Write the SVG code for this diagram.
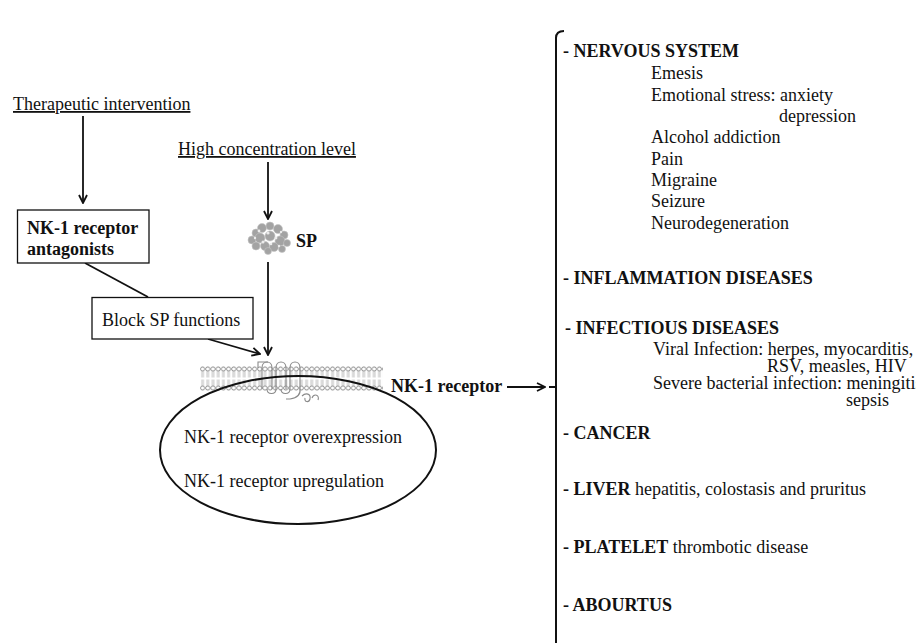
<svg xmlns="http://www.w3.org/2000/svg" width="916" height="643" viewBox="0 0 916 643">
  <defs>
    <style>
      text { font-family: "Liberation Serif", "Times New Roman", serif; font-size: 18px; fill: #111; }
      .b { font-weight: bold; }
      .u { text-decoration: underline; }
      .box { fill: #fff; stroke: #111; stroke-width: 1.3; }
      .ln { fill: none; stroke: #111; stroke-width: 1.8; }
      .rec { fill: none; stroke: #8a8a8a; stroke-width: 1.1; }
    </style>
    <marker id="arr" viewBox="0 0 10 10" refX="9" refY="5" markerWidth="10" markerHeight="10" markerUnits="userSpaceOnUse" orient="auto">
      <path d="M1,1 L9,5 L1,9" fill="none" stroke="#111" stroke-width="1.8"/>
    </marker>
    <!-- phospholipid bilayer tile: two head rows with tails -->
    <pattern id="lipid" x="200" y="366" width="5.2" height="25" patternUnits="userSpaceOnUse">
      <circle cx="2.6" cy="3" r="2.1" fill="#fff" stroke="#7a7a7a" stroke-width="0.8"/>
      <circle cx="2.6" cy="22" r="2.1" fill="#fff" stroke="#7a7a7a" stroke-width="0.8"/>
      <path d="M1.8,5.2 V11.5 M3.4,5.2 V11.5 M1.8,13.5 V19.8 M3.4,13.5 V19.8" stroke="#9a9a9a" stroke-width="0.6"/>
    </pattern>
  </defs>

  <!-- connectors -->
  <g id="connectors">
    <path class="ln" d="M83,116 V203" marker-end="url(#arr)"/>
    <path class="ln" d="M268,162 V219" marker-end="url(#arr)"/>
    <path class="ln" d="M268,262 V355" marker-end="url(#arr)"/>
    <path class="ln" d="M85,263 L148,297"/>
    <path class="ln" d="M208,339 L260,354" marker-end="url(#arr)"/>
    <path class="ln" d="M507,387 H545" marker-end="url(#arr)"/>
  </g>

  <g id="therapeutic">
    <text x="13" y="110" class="u">Therapeutic intervention</text>
  </g>

  <g id="antagonists">
    <rect class="box" x="17.5" y="210" width="131.5" height="53"/>
    <text x="27" y="234" class="b">NK-1 receptor</text>
    <text x="27" y="255" class="b">antagonists</text>
  </g>

  <g id="high-concentration">
    <text x="178" y="155" class="u">High concentration level</text>
  </g>

  <g id="sp">
    <!-- substance P molecule rendered as a cluster of atoms -->
    <g fill="#a3a3a3" stroke="#c4c4c4" stroke-width="0.6">
      <circle cx="256" cy="233" r="4"/>
      <circle cx="262" cy="228" r="4.5"/>
      <circle cx="270" cy="226" r="4"/>
      <circle cx="278" cy="229" r="4.5"/>
      <circle cx="284" cy="235" r="4"/>
      <circle cx="252" cy="240" r="4"/>
      <circle cx="260" cy="238" r="5"/>
      <circle cx="270" cy="236" r="5"/>
      <circle cx="280" cy="241" r="5"/>
      <circle cx="287" cy="243" r="3.5"/>
      <circle cx="256" cy="246" r="4"/>
      <circle cx="265" cy="246" r="4.5"/>
      <circle cx="274" cy="247" r="4.5"/>
      <circle cx="268" cy="251" r="3.5"/>
      <circle cx="282" cy="249" r="3.5"/>
    </g>
    <g fill="#ececec">
      <circle cx="259" cy="231" r="1.4"/>
      <circle cx="268" cy="233" r="1.6"/>
      <circle cx="276" cy="238" r="1.4"/>
      <circle cx="263" cy="242" r="1.5"/>
      <circle cx="271" cy="244" r="1.3"/>
      <circle cx="281" cy="232" r="1.2"/>
      <circle cx="255" cy="238" r="1.2"/>
      <circle cx="279" cy="246" r="1.2"/>
    </g>
    <text x="296" y="247" class="b">SP</text>
  </g>

  <g id="block-sp">
    <rect class="box" x="92" y="297.5" width="161" height="41.5"/>
    <text x="102" y="326">Block SP functions</text>
  </g>

  <g id="receptor">
    <rect x="200" y="366" width="183" height="25" fill="url(#lipid)"/>
    <!-- seven-transmembrane receptor -->
    <path class="rec" d="M258,368 V362 H268"/>
    <path class="rec" d="M262,368 C262,360 272,360 272,368 M276,368 C276,360 286,360 286,368 M290,368 C290,360 300,360 300,368"/>
    <path class="rec" d="M262,368 V389 M272,368 V389 M276,368 V389 M286,368 V389 M290,368 V389 M300,368 V389"/>
    <path class="rec" d="M267,389 C267,395 276,395 276,389 M281,389 C281,395 290,395 290,389 M300,389 C301,396 296,398 290,399 H286"/>
    <path class="rec" d="M302,396 C306,392 311,394 310,399 C309,403 304,402 305,398 M312,398 C314,393 320,395 318,400"/>
    <ellipse cx="298" cy="450" rx="138" ry="74" fill="none" stroke="#111" stroke-width="2"/>
    <text x="391" y="392" class="b">NK-1 receptor</text>
    <text x="184" y="443">NK-1 receptor overexpression</text>
    <text x="184" y="487">NK-1 receptor upregulation</text>
  </g>

  <g id="diseases">
    <path d="M564,31 Q556,31 556,38 V643 M549,387 H556" fill="none" stroke="#111" stroke-width="2"/>
    <text x="563" y="57" class="b">- NERVOUS SYSTEM</text>
    <text x="651" y="79">Emesis</text>
    <text x="651" y="100.5">Emotional stress: anxiety</text>
    <text x="779" y="122">depression</text>
    <text x="651" y="143">Alcohol addiction</text>
    <text x="651" y="164.5">Pain</text>
    <text x="651" y="186">Migraine</text>
    <text x="651" y="207">Seizure</text>
    <text x="651" y="228.5">Neurodegeneration</text>

    <text x="563" y="284" class="b">- INFLAMMATION DISEASES</text>

    <text x="565" y="334" class="b">- INFECTIOUS DISEASES</text>
    <text x="653" y="355">Viral Infection: herpes, myocarditis,</text>
    <text x="767" y="372">RSV, measles, HIV</text>
    <text x="653" y="389">Severe bacterial infection: meningitis,</text>
    <text x="846" y="406">sepsis</text>

    <text x="563" y="439" class="b">- CANCER</text>
    <text x="563" y="495"><tspan class="b">- LIVER</tspan> hepatitis, colostasis and pruritus</text>
    <text x="563" y="553"><tspan class="b">- PLATELET</tspan> thrombotic disease</text>
    <text x="563" y="611" class="b">- ABOURTUS</text>
  </g>
</svg>
